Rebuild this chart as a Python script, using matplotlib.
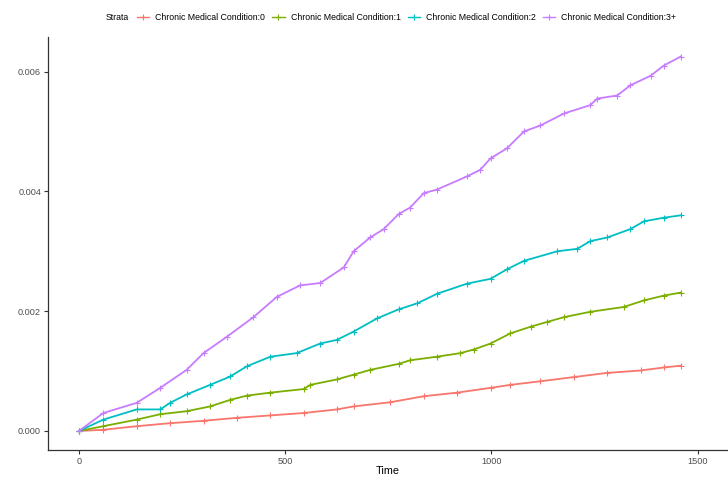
import matplotlib as mpl
mpl.use('Agg')
import matplotlib.pyplot as plt
from matplotlib.lines import Line2D
import numpy as np

plt.rcParams['font.family'] = ['Liberation Sans', 'DejaVu Sans']

# strata labels and ggplot hue colours
labels = ['Chronic Medical Condition:0', 'Chronic Medical Condition:1',
          'Chronic Medical Condition:2', 'Chronic Medical Condition:3+']
colors = ['#F8766D', '#7CAE00', '#00BFC4', '#C77CFF']

# curves (time, cumulative value)
t0 = [0, 59, 140, 221, 302, 383, 464, 545, 625, 666, 755, 836, 917, 998, 1046,
      1119, 1200, 1281, 1362, 1418, 1459]
v0 = [0, 0.00002, 0.00008, 0.00013, 0.00017, 0.00022, 0.00026, 0.0003, 0.00036,
      0.00041, 0.00048, 0.00058, 0.00064, 0.00072, 0.00077, 0.00083, 0.0009,
      0.00097, 0.00101, 0.00106, 0.00109]

t1 = [0, 59, 140, 197, 261, 318, 367, 407, 464, 545, 561, 625, 666, 706, 775, 803,
      868, 925, 957, 998, 1046, 1095, 1135, 1176, 1240, 1321, 1370, 1418, 1459]
v1 = [0, 0.00008, 0.00019, 0.00028, 0.00033, 0.00041, 0.00052, 0.00059, 0.00064,
      0.0007, 0.00077, 0.00086, 0.00094, 0.00102, 0.00112, 0.00118, 0.00124,
      0.0013, 0.00136, 0.00146, 0.00163, 0.00174, 0.00182, 0.0019, 0.00199,
      0.00207, 0.00218, 0.00226, 0.00231]

t2 = [0, 59, 140, 197, 221, 261, 318, 367, 407, 464, 528, 585, 625, 666, 723, 775,
      820, 868, 941, 998, 1038, 1079, 1160, 1208, 1240, 1281, 1337, 1370, 1418, 1459]
v2 = [0, 0.00019, 0.00036, 0.00036, 0.00047, 0.00061, 0.00077, 0.00091, 0.00108,
      0.00124, 0.0013, 0.00146, 0.00152, 0.00166, 0.00188, 0.00203, 0.00213,
      0.00229, 0.00246, 0.00254, 0.0027, 0.00284, 0.003, 0.00304, 0.00317,
      0.00323, 0.00337, 0.0035, 0.00356, 0.0036]

t3 = [0, 59, 140, 197, 261, 302, 358, 423, 480, 536, 585, 642, 666, 706, 739, 775,
      803, 836, 868, 941, 973, 998, 1038, 1079, 1119, 1176, 1240, 1257, 1305,
      1337, 1386, 1418, 1459]
v3 = [0, 0.0003, 0.00047, 0.00072, 0.00102, 0.0013, 0.00157, 0.0019, 0.00224,
      0.00243, 0.00247, 0.00273, 0.003, 0.00323, 0.00337, 0.00362, 0.00373,
      0.00397, 0.00403, 0.00425, 0.00436, 0.00455, 0.00472, 0.005, 0.0051,
      0.0053, 0.00544, 0.00555, 0.0056, 0.00577, 0.00593, 0.0061, 0.00625]

times = [t0, t1, t2, t3]
values = [v0, v1, v2, v3]

x_ticks = [0, 500, 1000, 1500]
y_ticks = [0.0, 0.002, 0.004, 0.006]

fig = plt.figure(figsize=(7.28, 4.78), dpi=100)
ax = fig.add_axes([0.066, 0.059, 0.933, 0.864])

for t, v, c in zip(times, values, colors):
    ax.plot(t, v, color=c, lw=1.3, marker='+', markersize=4.5, mew=0.8)

ax.set_xlim(-75, 1572)
ax.set_ylim(-0.000314, 0.00658)
ax.set_xticks(x_ticks)
ax.set_yticks(y_ticks)
ax.yaxis.set_major_formatter(mpl.ticker.FormatStrFormatter('%.3f'))
ax.tick_params(labelsize=6.6, colors='#333333', labelcolor='#4D4D4D', length=3, width=0.8, pad=2)
ax.set_xlabel('Time', fontsize=7.8, labelpad=0)

for side in ['top', 'right']:
    ax.spines[side].set_visible(False)
for side in ['left', 'bottom']:
    ax.spines[side].set_color('#333333')
    ax.spines[side].set_linewidth(0.9)

# legend on top, title to the left like ggplot
fig.text(106 / 728, 0.964, 'Strata', fontsize=6.3, va='center', ha='left')
handles = [Line2D([], [], color=c, lw=1.0, marker='+', markersize=5, mew=0.8) for c in colors]
fig.legend(handles, labels, loc='center left', bbox_to_anchor=(137 / 728, 0.964),
           ncol=4, frameon=False, fontsize=6.3, borderpad=0, borderaxespad=0,
           handlelength=1.4, handletextpad=0.7, columnspacing=0.8)

plt.savefig('out.png', dpi=100)
